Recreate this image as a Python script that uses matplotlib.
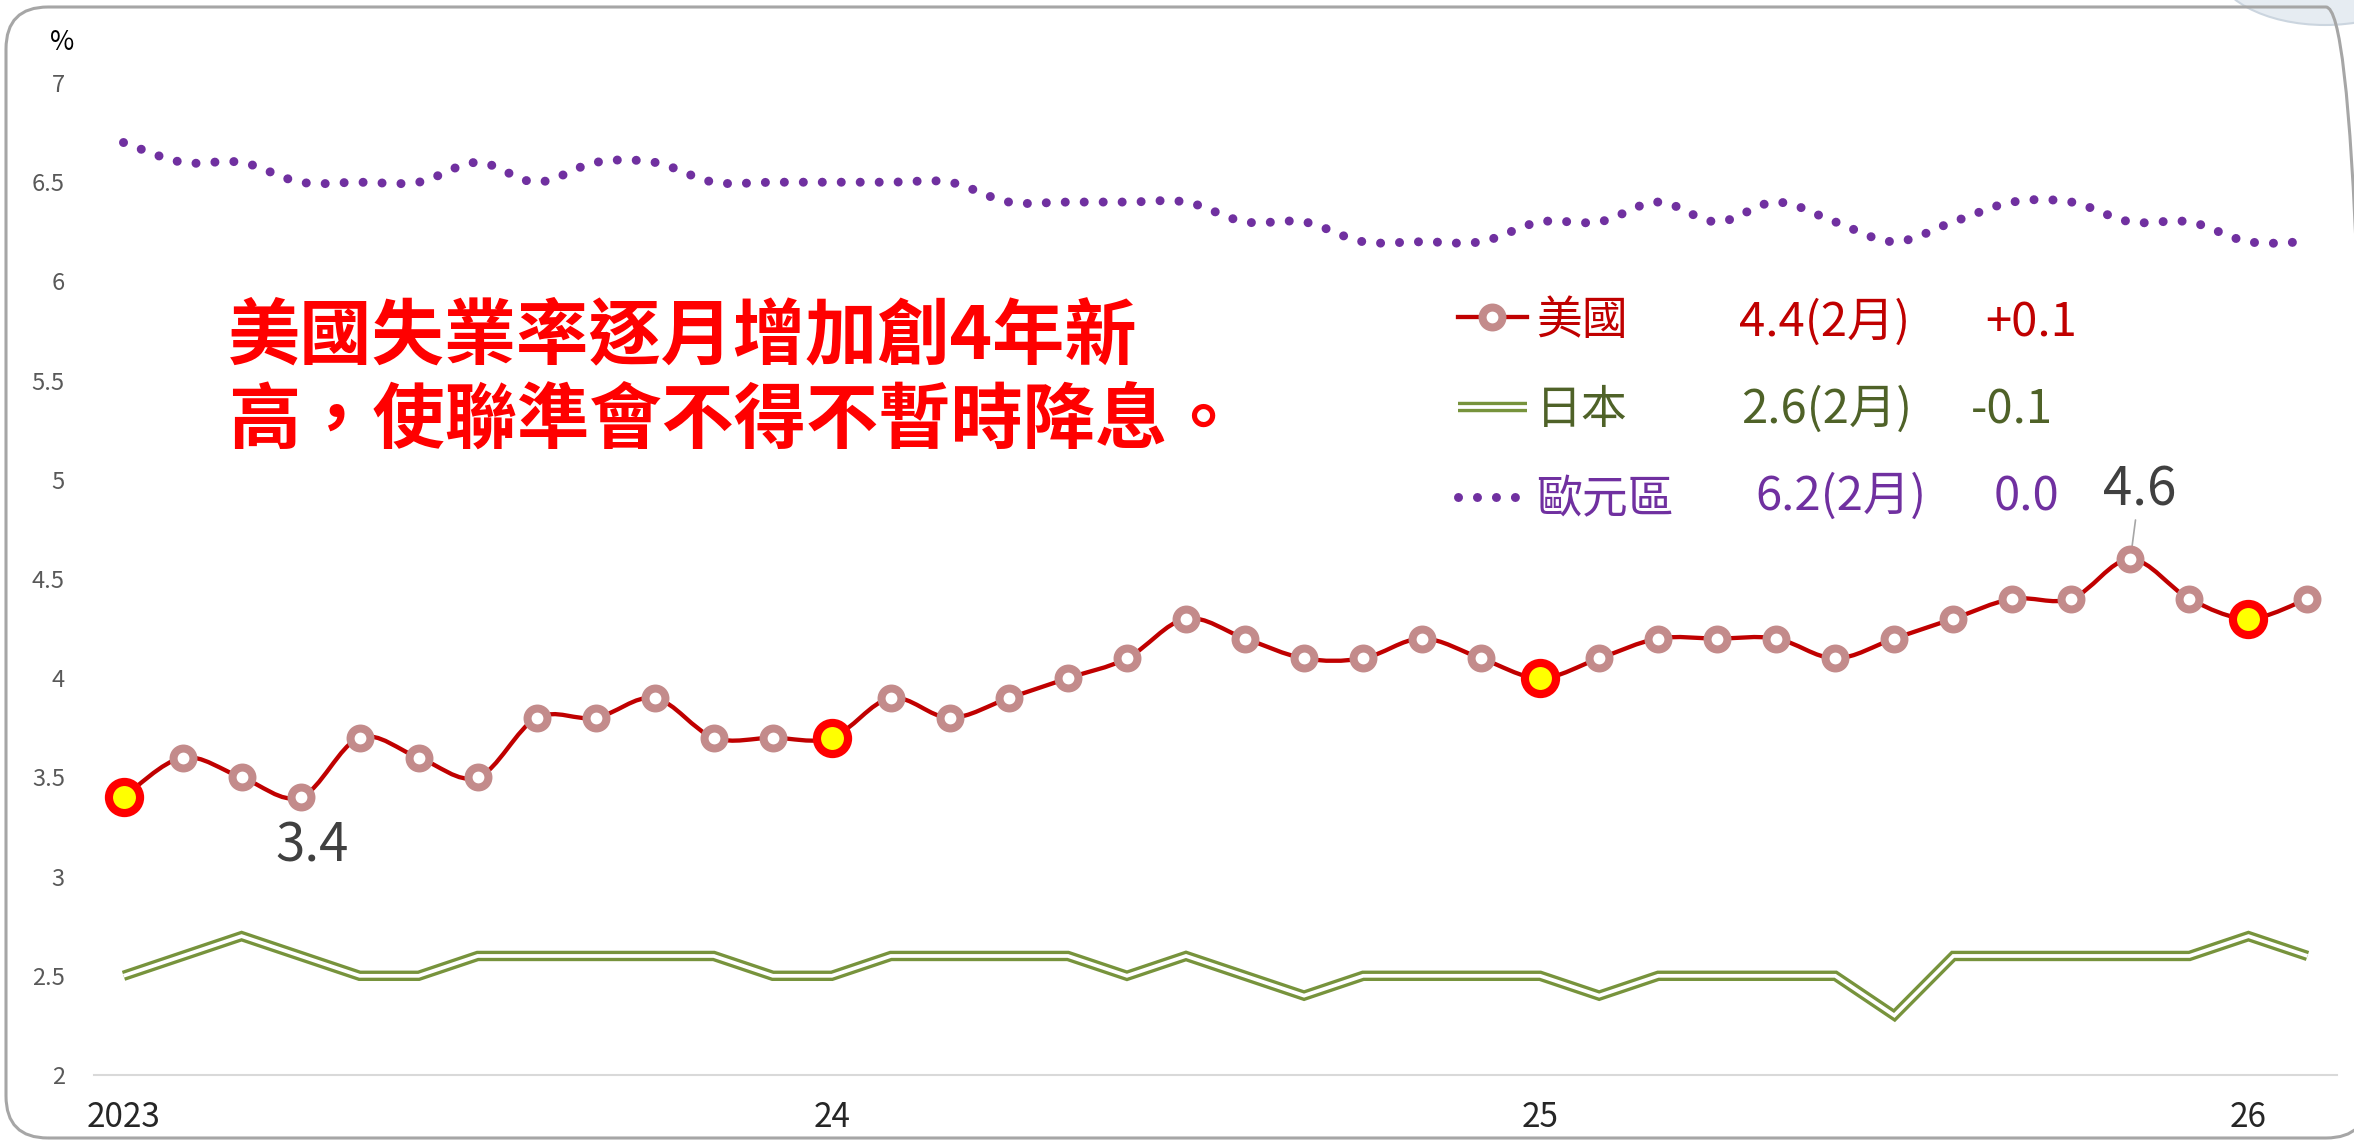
import matplotlib
matplotlib.use('Agg')
import matplotlib.pyplot as plt
import numpy as np
from matplotlib.path import Path
from matplotlib.patches import PathPatch, FancyBboxPatch, Ellipse
from matplotlib.lines import Line2D
from matplotlib.legend_handler import HandlerTuple

plt.rcParams['font.family'] = ['Noto Sans CJK TC', 'DejaVu Sans']

# 失業率(%)，2023年1月 ~ 2026年2月
us = [3.4, 3.6, 3.5, 3.4, 3.7, 3.6, 3.5, 3.8, 3.8, 3.9, 3.7, 3.7,
      3.7, 3.9, 3.8, 3.9, 4.0, 4.1, 4.3, 4.2, 4.1, 4.1, 4.2, 4.1,
      4.0, 4.1, 4.2, 4.2, 4.2, 4.1, 4.2, 4.3, 4.4, 4.4, 4.6, 4.4,
      4.3, 4.4]
japan = [2.5, 2.6, 2.7, 2.6, 2.5, 2.5, 2.6, 2.6, 2.6, 2.6, 2.6, 2.5,
         2.5, 2.6, 2.6, 2.6, 2.6, 2.5, 2.6, 2.5, 2.4, 2.5, 2.5, 2.5,
         2.5, 2.4, 2.5, 2.5, 2.5, 2.5, 2.3, 2.6, 2.6, 2.6, 2.6, 2.6,
         2.7, 2.6]
euro = [6.7, 6.6, 6.6, 6.5, 6.5, 6.5, 6.6, 6.5, 6.6, 6.6, 6.5, 6.5,
        6.5, 6.5, 6.5, 6.4, 6.4, 6.4, 6.4, 6.3, 6.3, 6.2, 6.2, 6.2,
        6.3, 6.3, 6.4, 6.3, 6.4, 6.3, 6.2, 6.3, 6.4, 6.4, 6.3, 6.3,
        6.2, 6.2]
months = np.arange(len(us))

year_ticks = [0, 12, 24, 36]
year_labels = ['2023', '24', '25', '26']
y_ticks = [2, 2.5, 3, 3.5, 4, 4.5, 5, 5.5, 6, 6.5, 7]
y_labels = ['2', '2.5', '3', '3.5', '4', '4.5', '5', '5.5', '6', '6.5', '7']

legend_names = ['美國', '日本', '歐元區']
legend_latest = ['4.4(2月)', '2.6(2月)', '6.2(2月)']
legend_change = ['+0.1', '-0.1', '0.0']
legend_colors = ['#C00000', '#4F6228', '#7030A0']

note = '美國失業率逐月增加創4年新\n高，使聯準會不得不暫時降息。'

US_LINE = '#C00000'
US_RING = '#C38B8B'
JP_GREEN = '#77933C'
EU_PURPLE = '#7030A0'


def smooth_path(x, y):
    # 平滑折線：Catmull-Rom 轉三次貝茲曲線
    pts = np.column_stack([x, y]).astype(float)
    p = np.vstack([pts[0], pts, pts[-1]])
    verts = [pts[0]]
    codes = [Path.MOVETO]
    for i in range(1, len(p) - 2):
        c1 = p[i] + (p[i + 1] - p[i - 1]) / 6
        c2 = p[i + 1] - (p[i + 2] - p[i]) / 6
        verts += [c1, c2, p[i + 1]]
        codes += [Path.CURVE4] * 3
    return Path(verts, codes)


fig = plt.figure(figsize=(23.54, 11.40), dpi=100)

# 外框與右上角裝飾
fig.patches.append(Ellipse((23.25, 11.75), 2.2, 1.2, transform=fig.dpi_scale_trans,
                           fc='#E6ECF2', ec='#CBD5DF', lw=1.5))
fig.patches.append(FancyBboxPatch((0.06, 0.02), 23.62, 11.31,
                                  boxstyle='round,pad=0,rounding_size=0.42',
                                  transform=fig.dpi_scale_trans, fill=False,
                                  ec='#A6A6A6', lw=2.2))

ax = fig.add_axes([94 / 2354, 65 / 1140, 2243 / 2354, 992 / 1140])
ax.patch.set_visible(False)
ax.set_xlim(-0.5, 37.5)
ax.set_ylim(2, 7)

# 歐元區：圓點虛線
eu = PathPatch(smooth_path(months, euro), fill=False, ec=EU_PURPLE, lw=6.5,
               linestyle=(0, (0.001, 2.1)), zorder=2)
eu.set_capstyle('round')
ax.add_patch(eu)

# 日本：雙線
ax.plot(months, japan, color=JP_GREEN, lw=7.5, solid_joinstyle='miter',
        solid_capstyle='butt', zorder=2)
ax.plot(months, japan, color='white', lw=2.7, solid_joinstyle='miter',
        solid_capstyle='butt', zorder=2)

# 美國：平滑線 + 空心圓點，每年1月以黃點標示
ax.add_patch(PathPatch(smooth_path(months, us), fill=False, ec=US_LINE, lw=3.1, zorder=3))
ax.plot(months, us, 'o', ms=14.3, mew=5.8, mfc='white', mec=US_RING, zorder=4)
ax.plot(months[year_ticks], [us[i] for i in year_ticks], 'o', ms=22.4, mew=5.9,
        mfc='#FFFF00', mec='#FF0000', zorder=5)

# 數據標籤
lo = 3
hi = int(np.argmax(us))
ax.annotate(f'{us[lo]:.1f}', (months[lo], us[lo]), xytext=(8.6, -35),
            textcoords='offset points', ha='center', va='center',
            fontsize=38, color='#404040')
ax.annotate(f'{us[hi]:.1f}', (months[hi], us[hi]), xytext=(6.5, 50),
            textcoords='offset points', ha='center', va='center',
            fontsize=38, color='#404040',
            arrowprops=dict(arrowstyle='-', color='#A6A6A6', lw=1.2,
                            shrinkA=38, shrinkB=0))

# 座標軸
for s in ['top', 'right', 'left']:
    ax.spines[s].set_visible(False)
ax.spines['bottom'].set_color('#D9D9D9')
ax.spines['bottom'].set_linewidth(1.5)
ax.set_xticks(year_ticks)
ax.set_xticklabels(year_labels, fontsize=24, color='#262626')
ax.set_yticks(y_ticks)
ax.set_yticklabels(y_labels, fontsize=17, color='#595959')
ax.tick_params(axis='x', length=0, pad=18)
ax.tick_params(axis='y', length=0, pad=21)
fig.text(62 / 2354, 1 - 43 / 1140, '%', ha='center', va='center', fontsize=19, color='black')

# 說明文字
fig.text(228 / 2354, 1 - 300 / 1140, note, ha='left', va='top', fontsize=52,
         fontweight='bold', color='#FF0000', linespacing=1.17)

# 圖例
us_h = Line2D([], [], color=US_LINE, lw=3.1, marker='o', ms=14.3, mew=5.8,
              mfc='white', mec=US_RING)
jp_h = (Line2D([], [], color=JP_GREEN, lw=7.5, solid_capstyle='butt'),
        Line2D([], [], color='white', lw=2.7, solid_capstyle='butt'))
eu_h = Line2D([], [], color=EU_PURPLE, lw=6.5, linestyle=(0, (0.001, 2.1)),
              dash_capstyle='round')
leg = ax.legend([us_h, jp_h, eu_h], legend_names,
                handler_map={tuple: HandlerTuple(ndivide=1, pad=0)},
                loc='center left', bbox_to_anchor=(1458 / 2354, 1 - 410 / 1140),
                bbox_transform=fig.transFigure, frameon=False,
                prop={'size': 33, 'weight': 'medium'},
                handlelength=1.5, handletextpad=0.2, labelspacing=0.9, borderpad=0,
                borderaxespad=0)
for t, c in zip(leg.get_texts(), legend_colors):
    t.set_color(c)

row_y = [323, 410, 497]
latest_x = [1739, 1741, 1755]
change_x = [1985, 1971, 1994]
for i in range(3):
    fig.text(latest_x[i] / 2354, 1 - row_y[i] / 1140, legend_latest[i], ha='left', va='center',
             fontsize=34, fontweight='medium', color=legend_colors[i])
    fig.text(change_x[i] / 2354, 1 - row_y[i] / 1140, legend_change[i], ha='left', va='center',
             fontsize=34, fontweight='medium', color=legend_colors[i])

fig.savefig('out.png', dpi=100)
